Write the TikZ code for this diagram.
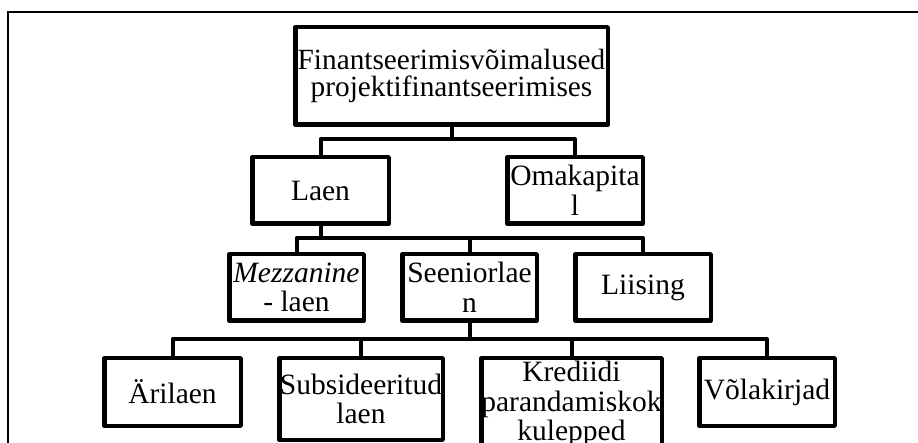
\documentclass[tikz,border=0pt]{standalone}
\usepackage{fontspec}
\setmainfont{Liberation Serif}
\tikzset{
  box/.style={draw=black, fill=white, line width=4.5pt, line join=round,
    inner sep=0pt, align=center, text=black,
    font=\fontsize{29.5}{29.5}\selectfont},
  conn/.style={draw=black, line width=4pt, line join=round},
  frame/.style={draw=black, line width=2.6pt}
}
\begin{document}
\begin{tikzpicture}[x=1pt,y=-1pt]
  \clip (0,0) rectangle (918,443);
  \fill[white] (0,0) rectangle (918,443);
  % outer frame (only the top and left sides fall inside the page)
  \draw[frame] (8,470) -- (8,12) -- (940,12);

  % level 0
  \node[box, minimum width=312.5pt, minimum height=97.5pt,
        font=\fontsize{29.3}{26.5}\selectfont] (root) at (451.5,76)
        {Finantseerimisvõimalused\\projektifinantseerimises};
  % level 1
  \node[box, minimum width=136.5pt, minimum height=66.5pt] (laen) at (320.5,190.5) {Laen};
  \node[box, minimum width=135.5pt, minimum height=66.5pt] (omak) at (575,190.5) {Omakapita\\l};
  % level 2
  \node[box, minimum width=134.5pt, minimum height=66.5pt] (mezz) at (296.5,287.5) {\textit{Mezzanine}\\- laen};
  \node[box, minimum width=134.5pt, minimum height=66.5pt] (seen) at (469.5,287.5) {Seeniorlae\\n};
  \node[box, minimum width=135.5pt, minimum height=66.5pt] (liis) at (643,287.5) {Liising};
  % level 3
  \node[box, minimum width=136.5pt, minimum height=67.5pt] (aril) at (172.5,392) {Ärilaen};
  \node[box, minimum width=163.5pt, minimum height=81.5pt] (subs) at (361,399) {Subsideeritud\\laen};
  \node[box, minimum width=180.5pt, minimum height=91.5pt] (kred) at (571.5,404) {Krediidi\\parandamiskok\\kulepped};
  \node[box, minimum width=135.5pt, minimum height=67.5pt] (vola) at (767,392) {Võlakirjad};

  % heights of the horizontal bars
  \coordinate (barA) at (0,139);
  \coordinate (barB) at (0,238);
  \coordinate (barC) at (0,339.5);

  % root -> level 1
  \draw[conn] (root.south) -- (root.south |- barA);
  \draw[conn] (laen.north) |- (omak.north |- barA) -- (omak.north);
  % Laen -> level 2
  \draw[conn] (laen.south) -- (laen.south |- barB);
  \draw[conn] (mezz.north) |- (liis.north |- barB) -- (liis.north);
  \draw[conn] (seen.north) -- (seen.north |- barB);
  % Seeniorlaen -> level 3
  \draw[conn] (seen.south) -- (seen.south |- barC);
  \draw[conn] (aril.north) |- (vola.north |- barC) -- (vola.north);
  \draw[conn] (subs.north) -- (subs.north |- barC);
  \draw[conn] (kred.north) -- (kred.north |- barC);
\end{tikzpicture}
\end{document}
